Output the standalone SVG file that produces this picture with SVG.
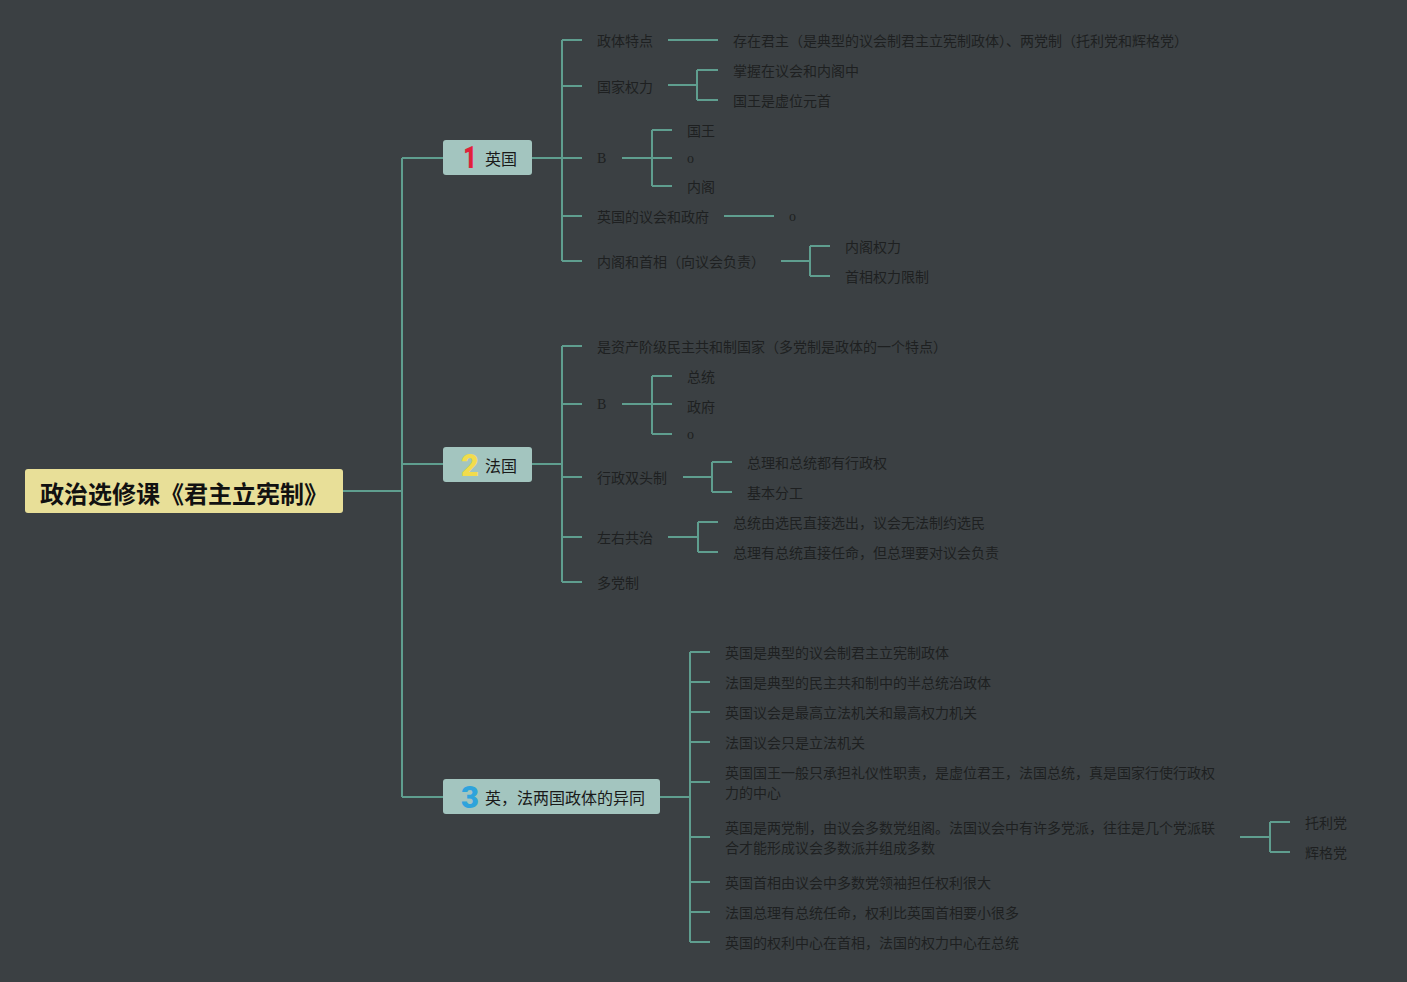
<svg xmlns="http://www.w3.org/2000/svg" width="1407" height="982" viewBox="0 0 1407 982">
<style>
.ln{fill:none;stroke:#5f9e8f;stroke-width:2}
.t{font-family:"Noto Sans CJK SC","Noto Sans",sans-serif;font-size:14px;fill:#1e2021;dominant-baseline:central}
.s{font-family:"Liberation Serif",serif;font-size:14px;fill:#1e2021;dominant-baseline:central}
.nt{font-family:"Noto Sans CJK SC","Noto Sans",sans-serif;font-size:16px;fill:#1a1a1a;dominant-baseline:central}
.num{font-family:Roboto,"Liberation Sans",Arial,sans-serif;font-size:31px;font-weight:900;text-anchor:middle;dominant-baseline:central}
.box{fill:#a3c5bf}
</style>
<rect x="0" y="0" width="1407" height="982" fill="#3b4043"/>
<g id="connectors">
<path class="ln" d="M343 491H402M402 158V797M402 158H443M402 464H443M402 797H443"/>
<path class="ln" d="M532 158H582M562 40V261M562 40H582M562 86H582M562 216H582M562 261H582"/>
<path class="ln" d="M668 40H718"/>
<path class="ln" d="M668 85H697M697 70V100M697 70H718M697 100H718"/>
<path class="ln" d="M622 158H672M652 130V186M652 130H672M652 186H672"/>
<path class="ln" d="M724 216H774"/>
<path class="ln" d="M781 261H810M810 246V276M810 246H830M810 276H830"/>
<path class="ln" d="M532 464H562M562 346V582M562 346H582M562 404H582M562 477H582M562 537H582M562 582H582"/>
<path class="ln" d="M622 404H672M652 376V434M652 376H672M652 434H672"/>
<path class="ln" d="M683 477H712M712 462V492M712 462H732M712 492H732"/>
<path class="ln" d="M668 537H698M698 522V552M698 522H718M698 552H718"/>
<path class="ln" d="M660 797H690M690 652V942M690 652H710M690 682H710M690 712H710M690 742H710M690 782H710M690 837H710M690 882H710M690 912H710M690 942H710"/>
<path class="ln" d="M1240 837H1270M1270 822V852M1270 822H1290M1270 852H1290"/>
</g>
<g id="root">
<rect x="25" y="469" width="318" height="44" rx="3" fill="#e8df98"/>
<text x="40" y="492" style="font-family:'Noto Sans CJK SC',sans-serif;font-size:24px;font-weight:bold;fill:#111;dominant-baseline:central">政治选修课《君主立宪制》</text>
</g>
<g id="n1">
<rect class="box" x="443" y="140" width="89" height="35" rx="3"/>
<text class="num" x="470" y="158" fill="#e0213a" transform="translate(470 0) scale(0.75 1) translate(-470 0)">1</text>
<text class="nt" x="485" y="158">英国</text>
</g>
<g id="n2">
<rect class="box" x="443" y="447" width="89" height="35" rx="3"/>
<text class="num" x="470" y="465" fill="#f2dc4c">2</text>
<text class="nt" x="485" y="465">法国</text>
</g>
<g id="n3">
<rect class="box" x="443" y="779" width="217" height="35" rx="3"/>
<text class="num" x="470" y="797" fill="#2ea3dc">3</text>
<text class="nt" x="485" y="797">英，法两国政体的异同</text>
</g>
<g id="n1-children">
<text class="t" x="597" y="40">政体特点</text>
<text class="t" x="733" y="40">存在君主（是典型的议会制君主立宪制政体）、两党制（托利党和辉格党）</text>
<text class="t" x="597" y="86">国家权力</text>
<text class="t" x="733" y="70">掌握在议会和内阁中</text>
<text class="t" x="733" y="100">国王是虚位元首</text>
<text class="s" x="597" y="158">B</text>
<text class="t" x="687" y="130">国王</text>
<text class="s" x="687" y="158">o</text>
<text class="t" x="687" y="186">内阁</text>
<text class="t" x="597" y="216">英国的议会和政府</text>
<text class="s" x="789" y="216">o</text>
<text class="t" x="597" y="261">内阁和首相（向议会负责）</text>
<text class="t" x="845" y="246">内阁权力</text>
<text class="t" x="845" y="276">首相权力限制</text>
</g>
<g id="n2-children">
<text class="t" x="597" y="346">是资产阶级民主共和制国家（多党制是政体的一个特点）</text>
<text class="s" x="597" y="404">B</text>
<text class="t" x="687" y="376">总统</text>
<text class="t" x="687" y="406">政府</text>
<text class="s" x="687" y="434">o</text>
<text class="t" x="597" y="477">行政双头制</text>
<text class="t" x="747" y="462">总理和总统都有行政权</text>
<text class="t" x="747" y="492">基本分工</text>
<text class="t" x="597" y="537">左右共治</text>
<text class="t" x="733" y="522">总统由选民直接选出，议会无法制约选民</text>
<text class="t" x="733" y="552">总理有总统直接任命，但总理要对议会负责</text>
<text class="t" x="597" y="582">多党制</text>
</g>
<g id="n3-children">
<text class="t" x="725" y="652">英国是典型的议会制君主立宪制政体</text>
<text class="t" x="725" y="682">法国是典型的民主共和制中的半总统治政体</text>
<text class="t" x="725" y="712">英国议会是最高立法机关和最高权力机关</text>
<text class="t" x="725" y="742">法国议会只是立法机关</text>
<text class="t" x="725" y="772">英国国王一般只承担礼仪性职责，是虚位君王，法国总统，真是国家行使行政权</text>
<text class="t" x="725" y="792">力的中心</text>
<text class="t" x="725" y="827">英国是两党制，由议会多数党组阁。法国议会中有许多党派，往往是几个党派联</text>
<text class="t" x="725" y="847">合才能形成议会多数派并组成多数</text>
<text class="t" x="1305" y="822">托利党</text>
<text class="t" x="1305" y="852">辉格党</text>
<text class="t" x="725" y="882">英国首相由议会中多数党领袖担任权利很大</text>
<text class="t" x="725" y="912">法国总理有总统任命，权利比英国首相要小很多</text>
<text class="t" x="725" y="942">英国的权利中心在首相，法国的权力中心在总统</text>
</g>
</svg>
